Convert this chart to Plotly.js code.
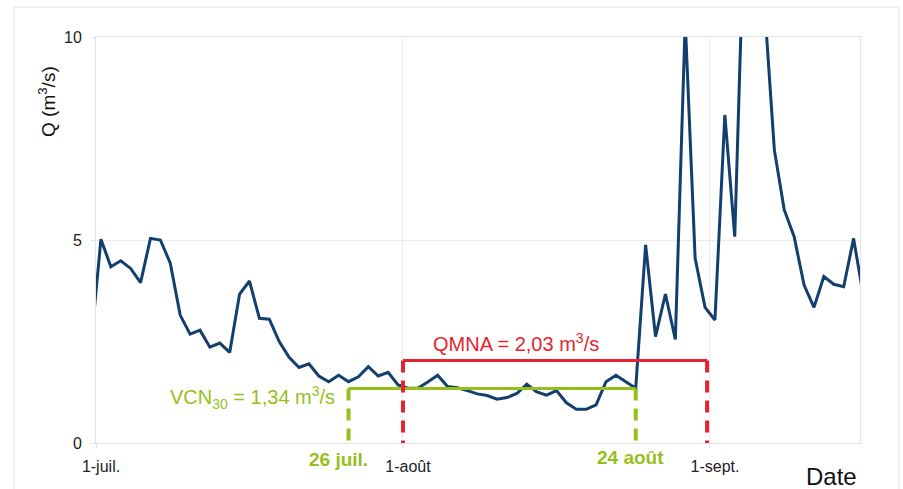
<!DOCTYPE html>
<html>
<head>
<meta charset="utf-8">
<script src="https://cdn.plot.ly/plotly-3.0.1.min.js"></script>
<style>html,body{margin:0;padding:0;background:#fff;}#chart{width:903px;height:489px;}</style>
</head>
<body>
<div id="chart"></div>
<script>
// Daily discharge Q (m3/s), from 30 June to 16 Sept (first and last are partly outside the axis)
const firstDate = '2003-06-30';
const flowValues = [2.44,
  5.02, 4.34, 4.49, 4.30, 3.95, 5.04, 5.00, 4.43, 3.15, 2.68,
  2.78, 2.36, 2.46, 2.23, 3.67, 3.99, 3.07, 3.05, 2.50, 2.11,
  1.86, 1.95, 1.65, 1.51, 1.67, 1.51, 1.63, 1.88, 1.65, 1.74,
  1.43, 1.35, 1.35, 1.50, 1.67, 1.39, 1.36, 1.29, 1.21, 1.17,
  1.08, 1.12, 1.22, 1.45, 1.26, 1.18, 1.29, 0.99, 0.83, 0.83,
  0.94, 1.51, 1.67, 1.51, 1.35, 4.88, 2.62, 3.67, 2.55, 10.4,
  4.55, 3.34, 3.03, 8.08, 5.08, 13.2, 15.0, 10.8, 7.22, 5.74,
  5.08, 3.89, 3.34, 4.10, 3.91, 3.85, 5.04, 3.60];

const xTickVals = ['2003-07-01', '2003-08-01', '2003-09-01'];
const xTickText = ['1-juil.', '1-août', '1-sept.'];
const yTickVals = [0, 5, 10];
const xRange = ['2003-07-01', '2003-09-16 03:33'];

// Low-flow statistics
const vcn30 = 1.34;
const vcnStart = '2003-07-26 12:00';
const vcnEnd = '2003-08-24 12:00';
const vcnStartLabel = '26 juil.';
const vcnEndLabel = '24 août';
const qmna = 2.03;
const qmnaStart = '2003-08-01 00:00';
const qmnaEnd = '2003-08-31 17:00';

function pad(n){return (n<10?'0':'')+n;}
function dayString(i){
  const p = firstDate.split('-').map(Number);
  const d = new Date(Date.UTC(p[0], p[1]-1, p[2] + i));
  return d.getUTCFullYear()+'-'+pad(d.getUTCMonth()+1)+'-'+pad(d.getUTCDate())+' 12:00';
}
const flowDates = flowValues.map((v,i)=>dayString(i));

const blue = '#123f6e';
const red = '#e5242f';
const green = '#97bf1b';
const font = 'Liberation Sans, Arial, sans-serif';

const traces = [
  {x: flowDates, y: flowValues, type:'scatter', mode:'lines',
   line:{color:blue, width:3}, hoverinfo:'x+y'},
  // VCN30
  {x:[vcnStart, vcnEnd], y:[vcn30, vcn30], mode:'lines', line:{color:green, width:3}},
  {x:[vcnStart, vcnStart], y:[vcn30, 0], mode:'lines', line:{color:green, width:4, dash:'12px,8px'}},
  {x:[vcnEnd, vcnEnd], y:[vcn30, 0], mode:'lines', line:{color:green, width:4, dash:'12px,8px'}},
  // QMNA
  {x:[qmnaStart, qmnaEnd], y:[qmna, qmna], mode:'lines', line:{color:red, width:3}},
  {x:[qmnaStart, qmnaStart], y:[qmna, 0], mode:'lines', line:{color:red, width:4, dash:'12px,8px'}},
  {x:[qmnaEnd, qmnaEnd], y:[qmna, 0], mode:'lines', line:{color:red, width:4, dash:'12px,8px'}}
];

const layout = {
  width:903, height:489,
  margin:{l:96, r:43, t:37, b:46},
  paper_bgcolor:'#fff', plot_bgcolor:'#fff',
  showlegend:false,
  font:{family:font, color:'#222', size:16},
  xaxis:{type:'date', range:xRange, tickvals:xTickVals, ticktext:xTickText,
    showgrid:true, gridcolor:'#ececec', gridwidth:1,
    showline:true, linecolor:'#e3e3e3', linewidth:1, mirror:true,
    ticks:'outside', ticklen:4, tickcolor:'#e3e3e3',
    ticklabelstandoff:5, ticklabelshift:5,
    tickfont:{family:font, size:16, color:'#222'}, zeroline:false, fixedrange:true},
  yaxis:{range:[0,10], tickvals:yTickVals, ticktext:yTickVals.map(String),
    showgrid:true, gridcolor:'#ececec', gridwidth:1,
    showline:true, linecolor:'#e3e3e3', linewidth:1, mirror:true,
    ticks:'outside', ticklen:4, tickcolor:'#e3e3e3',
    ticklabelstandoff:6,
    tickfont:{family:font, size:16, color:'#222'}, zeroline:false, fixedrange:true},
  shapes:[
    {type:'rect', xref:'paper', yref:'paper', x0:(14-96)/764, x1:(899-96)/764,
     y0:(443-500)/406, y1:(443-7)/406, line:{color:'#e2e2e2', width:1}, layer:'below'}
  ],
  annotations:[
    {xref:'paper', yref:'paper', x:(47-96)/764, y:(443-102)/406, xanchor:'center', yanchor:'middle',
     text:'Q (m<sup>3</sup>/s)', textangle:-90, showarrow:false, font:{family:font, size:19, color:'#111'}},
    {xref:'paper', yref:'paper', x:(831-96)/764, y:(443-476)/406, xanchor:'center', yanchor:'middle',
     text:'Date', showarrow:false, font:{family:font, size:24, color:'#111'}},
    {x:qmnaStart, y:qmna, xanchor:'left', yanchor:'bottom', xshift:28, yshift:4,
     text:'QMNA = 2,03 m<sup>3</sup>/s', showarrow:false, font:{family:font, size:20, color:red}},
    {x:vcnStart, y:vcn30, xanchor:'right', yanchor:'middle', xshift:-12, yshift:-9,
     text:'VCN<sub>30</sub> = 1,34 m<sup>3</sup>/s', showarrow:false, font:{family:font, size:20, color:green}},
    {x:vcnStart, y:0, xanchor:'center', yanchor:'middle', xshift:-10, yshift:-16,
     text:'<b>'+vcnStartLabel+'</b>', showarrow:false, font:{family:font, size:19, color:green}},
    {x:vcnEnd, y:0, xanchor:'center', yanchor:'middle', xshift:-5, yshift:-14,
     text:'<b>'+vcnEndLabel+'</b>', showarrow:false, font:{family:font, size:19, color:green}}
  ]
};

Plotly.newPlot('chart', traces, layout, {displayModeBar:false, staticPlot:true});
</script>
</body>
</html>
